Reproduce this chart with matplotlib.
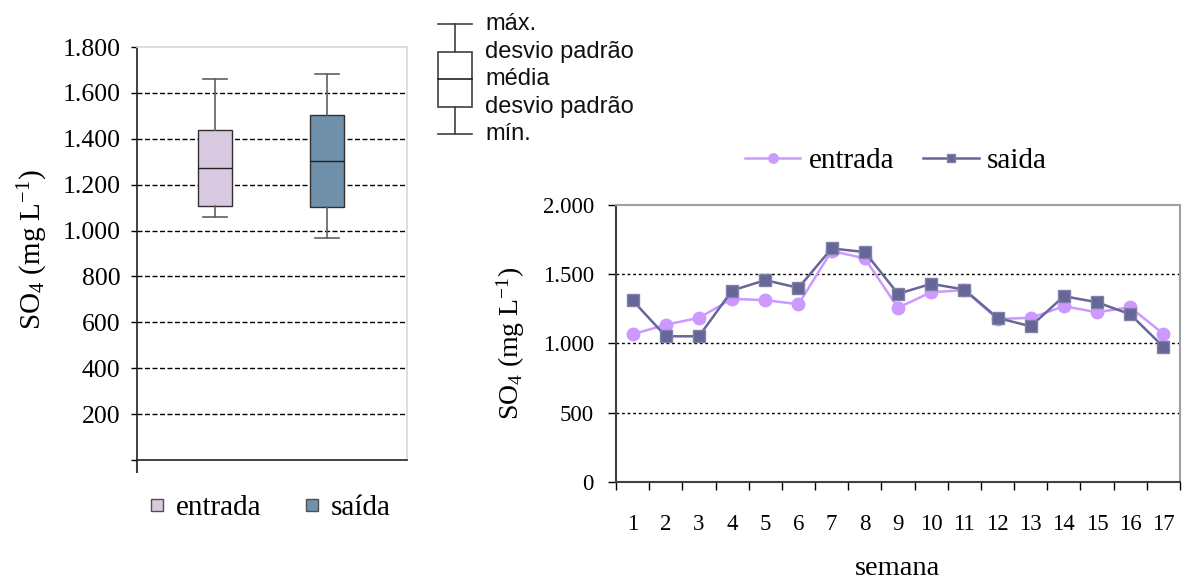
import matplotlib
matplotlib.use("Agg")
import matplotlib.pyplot as plt
from matplotlib.lines import Line2D
from matplotlib.ticker import FuncFormatter

# ---- data ----
box_labels = ["entrada", "saída"]
box_max = [1662, 1684]
box_sd_up = [1438, 1503]
box_mean = [1274, 1303]
box_sd_low = [1109, 1104]
box_min = [1058, 968]
box_colors = ["#D9C9E0", "#7190A9"]

weeks = list(range(1, 18))
entrada = [1065, 1135, 1184, 1322, 1312, 1283, 1668, 1614, 1257, 1370, 1384,
           1177, 1184, 1268, 1225, 1261, 1068]
saida = [1311, 1051, 1051, 1382, 1457, 1401, 1686, 1660, 1358, 1430, 1389,
         1184, 1123, 1341, 1297, 1210, 975]

left_yticks = [0, 200, 400, 600, 800, 1000, 1200, 1400, 1600, 1800]
right_yticks = [0, 500, 1000, 1500, 2000]

legend_items = ["máx.", "desvio padrão", "média", "desvio padrão", "mín."]

SERIF = ["Liberation Serif", "DejaVu Serif"]
SANS = ["Liberation Sans", "DejaVu Sans"]
plt.rcParams["font.family"] = SERIF
plt.rcParams["mathtext.fontset"] = "custom"
plt.rcParams["mathtext.rm"] = "Liberation Serif"
plt.rcParams["mathtext.it"] = "Liberation Serif:italic"

W, H = 1184, 583
fig = plt.figure(figsize=(W / 100, H / 100), dpi=100)

def fmt(v, pos=None):
    return f"{int(round(v)):,}".replace(",", ".")

# ---- left: box chart ----
axL = fig.add_axes([137 / W, (H - 460) / H, 270 / W, (460 - 47) / H])
stats = []
for i in range(len(box_labels)):
    stats.append(dict(med=box_mean[i], q1=box_sd_low[i], q3=box_sd_up[i],
                      whislo=box_min[i], whishi=box_max[i], fliers=[],
                      label=box_labels[i]))
bp = axL.bxp(stats, positions=[1, 2], widths=0.30, patch_artist=True,
             showfliers=False, capwidths=0.22,
             boxprops=dict(edgecolor="#303030", linewidth=1.0),
             medianprops=dict(color="#202020", linewidth=1.0),
             whiskerprops=dict(color="#606060", linewidth=1.2),
             capprops=dict(color="#606060", linewidth=1.2), zorder=3)
for patch, c in zip(bp["boxes"], box_colors):
    patch.set_facecolor(c)
axL.set_xlim(0.304, 2.714)
axL.set_ylim(0, 1800)
for v in left_yticks:
    if 0 < v < 1800:
        axL.axhline(v, color="black", linewidth=1.0, linestyle=(0, (3.6, 1.8)), zorder=1)
axL.set_yticks(left_yticks)
axL.set_yticklabels(["" if v == 0 else fmt(v) for v in left_yticks], fontsize=18.5)
axL.tick_params(axis="y", direction="out", length=4, width=1, pad=8)
axL.set_xticks([0.304])
axL.set_xticklabels([""])
axL.tick_params(axis="x", direction="out", length=9, width=1.5, color="#404040")
for s in ["left", "bottom"]:
    axL.spines[s].set_color("#202020")
    axL.spines[s].set_linewidth(1.2)
for s in ["top", "right"]:
    axL.spines[s].set_color("#D8D8D8")
    axL.spines[s].set_linewidth(1.2)
axL.set_ylabel(r"SO$_4$ (mg L$^{-1}$)", fontsize=21)
axL.yaxis.set_label_coords(-0.322, 0.51)

hL = [Line2D([], [], marker="s", linestyle="none", markersize=8.5,
             markerfacecolor=c, markeredgecolor="#505050", markeredgewidth=1.0)
      for c in box_colors]
fig.legend(hL, box_labels, loc="center", bbox_to_anchor=(268 / W, 1 - 508 / H),
           frameon=False, ncol=2, fontsize=21, handlelength=0.8,
           handletextpad=0.25, columnspacing=1.35, borderpad=0, borderaxespad=0)

# ---- box legend glyph (top middle) ----
axG = fig.add_axes([0, 0, 1, 1], zorder=-1)
axG.set_xlim(0, W)
axG.set_ylim(H, 0)
axG.axis("off")
gx0, gx1, gxc = 438, 472, 455
ys = [24, 52, 79, 107, 134]
axG.plot([gx0, gx1], [ys[0], ys[0]], color="#404040", lw=1.2)
axG.plot([gx0, gx1], [ys[4], ys[4]], color="#404040", lw=1.2)
axG.plot([gxc, gxc], [ys[0], ys[1]], color="#404040", lw=1.2)
axG.plot([gxc, gxc], [ys[3], ys[4]], color="#404040", lw=1.2)
axG.add_patch(plt.Rectangle((gx0, ys[1]), gx1 - gx0, ys[3] - ys[1],
                            facecolor="white", edgecolor="#404040", lw=1.2))
axG.plot([gx0, gx1], [ys[2], ys[2]], color="#202020", lw=1.2)
for y, t in zip(ys, legend_items):
    axG.text(485, y, t, fontsize=17, family=SANS, va="center", ha="left",
             color="#111111")

# ---- right: line chart ----
axR = fig.add_axes([616 / W, (H - 481.7) / H, 564 / W, (481.7 - 205) / H])
axR.plot(weeks, entrada, color="#CC99FF", linewidth=1.8, marker="o",
         markersize=9, markerfacecolor="#CC99FF", markeredgecolor="#CC99FF",
         label="entrada", zorder=3)
axR.plot(weeks, saida, color="#666699", linewidth=1.8, marker="s",
         markersize=8.5, markerfacecolor="#666699", markeredgecolor="#8080A8",
         label="saida", zorder=4)
axR.set_xlim(0.5, 17.5)
axR.set_ylim(0, 2000)
for v in right_yticks:
    if 0 < v < 2000:
        axR.axhline(v, color="black", linewidth=1.0, linestyle=(0, (2, 2)), zorder=1)
axR.set_yticks(right_yticks)
axR.yaxis.set_major_formatter(FuncFormatter(fmt))
axR.tick_params(axis="y", direction="out", length=6, width=1, labelsize=16.5, pad=10)
axR.set_xticks([w - 0.5 for w in weeks] + [17.5])
axR.set_xticklabels([])
axR.set_xticks(weeks, minor=True)
axR.set_xticklabels([str(w) for w in weeks], minor=True, fontsize=16.5)
axR.tick_params(axis="x", which="major", direction="out", length=6, width=1)
axR.tick_params(axis="x", which="minor", length=0, pad=23)
for s in ["left", "bottom"]:
    axR.spines[s].set_color("#404040")
    axR.spines[s].set_linewidth(1.5)
for s in ["top", "right"]:
    axR.spines[s].set_color("#A0A0A0")
    axR.spines[s].set_linewidth(1.5)
axR.set_ylabel(r"SO$_4$ (mg L$^{-1}$)", fontsize=20)
axR.yaxis.set_label_coords(-0.158, 0.5)
axR.set_xlabel("semana", fontsize=20.5, va="baseline")
axR.xaxis.set_label_coords(0.5, -0.338)
axR.legend(loc="center", bbox_to_anchor=(896 / W, 1 - 161 / H),
           bbox_transform=fig.transFigure, frameon=False, ncol=2, fontsize=21,
           handlelength=1.9, handletextpad=0.28, columnspacing=1.0,
           markerscale=0.75, borderpad=0, borderaxespad=0)

fig.savefig("out.png", dpi=100)
